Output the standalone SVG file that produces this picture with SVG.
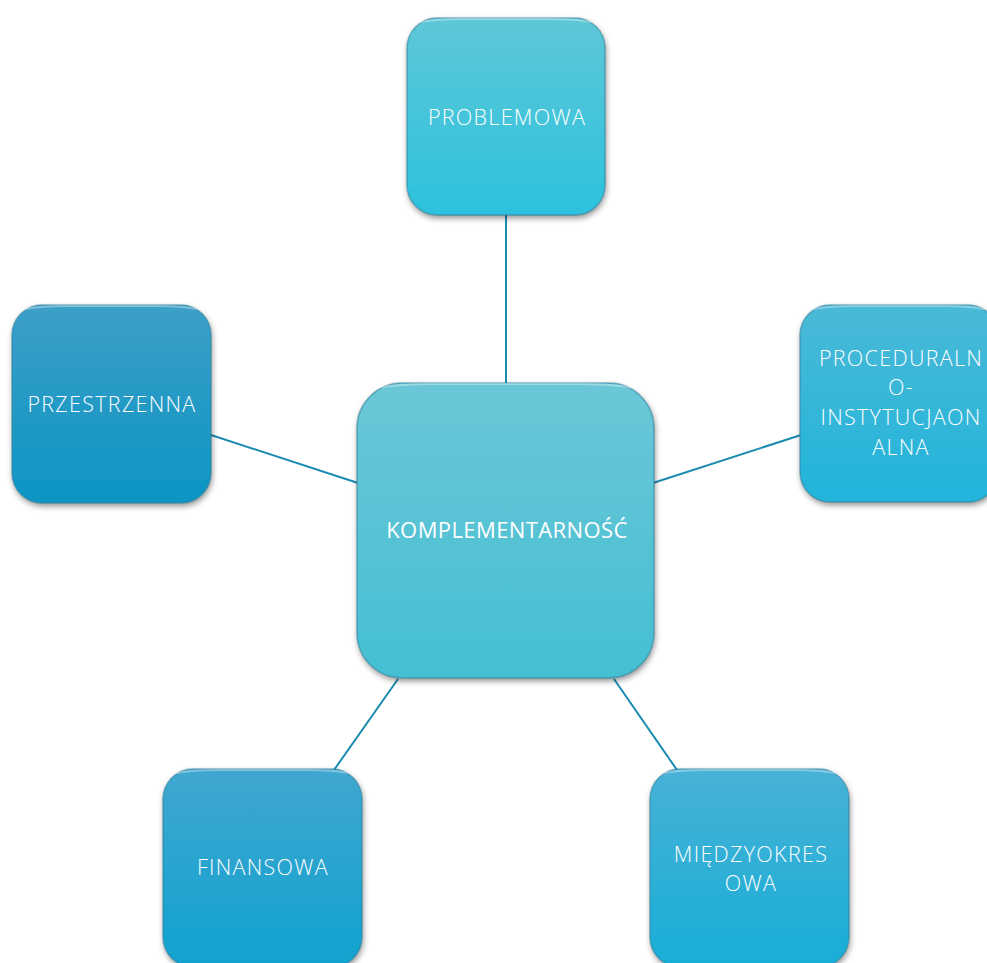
<svg xmlns="http://www.w3.org/2000/svg" width="987" height="963" viewBox="0 0 987 963">
<defs>
<style>
.lbl{font-family:"Open Sans","Noto Sans","Liberation Sans",sans-serif;font-weight:300;font-size:21.5px;letter-spacing:1.3px;fill:#ffffff;text-anchor:middle}
.c{stroke:#1a8bb0;stroke-width:2;fill:none}
.edge{fill:none;stroke:#2a7f9a;stroke-opacity:0.55;stroke-width:1.5}
.hl{fill:none;stroke:#ffffff;stroke-opacity:0.35;stroke-width:2}
</style>
<filter id="sh" x="-10%" y="-10%" width="125%" height="125%">
<feGaussianBlur in="SourceAlpha" stdDeviation="3"/>
<feOffset dx="1" dy="3" result="b"/>
<feComponentTransfer><feFuncA type="linear" slope="0.45"/></feComponentTransfer>
<feMerge><feMergeNode/><feMergeNode in="SourceGraphic"/></feMerge>
</filter>
<linearGradient id="gTop" x1="0" y1="0" x2="0" y2="1"><stop offset="0" stop-color="#5ec7d7"/><stop offset="1" stop-color="#2cc2de"/></linearGradient>
<linearGradient id="gCen" x1="0" y1="0" x2="0" y2="1"><stop offset="0" stop-color="#6bc7d7"/><stop offset="1" stop-color="#45bfd3"/></linearGradient>
<linearGradient id="gLeft" x1="0" y1="0" x2="0" y2="1"><stop offset="0" stop-color="#3c9fc8"/><stop offset="1" stop-color="#0c95c3"/></linearGradient>
<linearGradient id="gRight" x1="0" y1="0" x2="0" y2="1"><stop offset="0" stop-color="#4bb9d8"/><stop offset="1" stop-color="#20b4da"/></linearGradient>
<linearGradient id="gFin" x1="0" y1="0" x2="0" y2="1"><stop offset="0" stop-color="#40a7d0"/><stop offset="1" stop-color="#10a2cf"/></linearGradient>
<linearGradient id="gMie" x1="0" y1="0" x2="0" y2="1"><stop offset="0" stop-color="#48b1d7"/><stop offset="1" stop-color="#18aed6"/></linearGradient>
</defs>
<g id="connectors">
<line class="c" x1="506" y1="215" x2="506" y2="384"/>
<line class="c" x1="211" y1="435" x2="358" y2="483"/>
<line class="c" x1="653" y1="483" x2="801" y2="435"/>
<line class="c" x1="398" y1="679" x2="334" y2="770"/>
<line class="c" x1="614" y1="679" x2="677" y2="770"/>
</g>
<g id="problemowa">
<rect x="407" y="18" width="198" height="197" rx="30" fill="url(#gTop)" filter="url(#sh)"/>
<rect x="407" y="18" width="198" height="197" rx="30" class="edge"/>
<path d="M420 22 Q437 19 460 19 L552 19 Q575 19 592 22" class="hl"/>
<text class="lbl" x="507" y="125">PROBLEMOWA</text>
</g>
<g id="komplementarnosc">
<rect x="357" y="383" width="297" height="295" rx="45" fill="url(#gCen)" filter="url(#sh)"/>
<rect x="357" y="383" width="297" height="295" rx="45" class="edge"/>
<path d="M375 388 Q400 384 430 384 L581 384 Q611 384 636 388" class="hl"/>
<text class="lbl" x="507" y="538" style="font-weight:400;font-size:22px;letter-spacing:0.4px">KOMPLEMENTARNOŚĆ</text>
</g>
<g id="proceduralno">
<rect x="800" y="305" width="198" height="197" rx="30" fill="url(#gRight)" filter="url(#sh)"/>
<rect x="800" y="305" width="198" height="197" rx="30" class="edge"/>
<path d="M813 309 Q830 306 853 306 L945 306 Q968 306 985 309" class="hl"/>
<text class="lbl" x="901" y="366">PROCEDURALN</text>
<text class="lbl" x="901" y="395">O-</text>
<text class="lbl" x="901" y="425">INSTYTUCJAON</text>
<text class="lbl" x="901" y="455">ALNA</text>
</g>
<g id="przestrzenna">
<rect x="12" y="305" width="199" height="198" rx="30" fill="url(#gLeft)" filter="url(#sh)"/>
<rect x="12" y="305" width="199" height="198" rx="30" class="edge"/>
<path d="M25 309 Q42 306 65 306 L158 306 Q181 306 198 309" class="hl"/>
<text class="lbl" x="112" y="412">PRZESTRZENNA</text>
</g>
<g id="finansowa">
<rect x="163" y="769" width="199" height="198" rx="30" fill="url(#gFin)" filter="url(#sh)"/>
<rect x="163" y="769" width="199" height="198" rx="30" class="edge"/>
<path d="M176 773 Q193 770 216 770 L309 770 Q332 770 349 773" class="hl"/>
<text class="lbl" x="263" y="875">FINANSOWA</text>
</g>
<g id="miedzyokresowa">
<rect x="650" y="769" width="199" height="198" rx="30" fill="url(#gMie)" filter="url(#sh)"/>
<rect x="650" y="769" width="199" height="198" rx="30" class="edge"/>
<path d="M663 773 Q680 770 703 770 L796 770 Q819 770 836 773" class="hl"/>
<text class="lbl" x="751" y="862">MIĘDZYOKRES</text>
<text class="lbl" x="751" y="891">OWA</text>
</g>
</svg>
